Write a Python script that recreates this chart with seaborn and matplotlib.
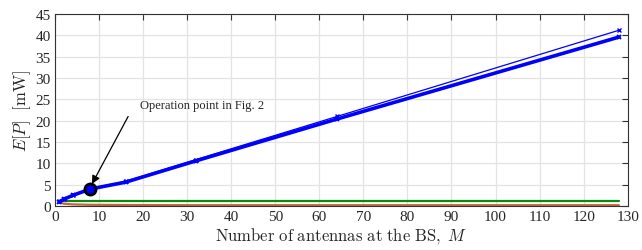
import numpy as np
import pandas as pd
import matplotlib
matplotlib.use("Agg")
import matplotlib.pyplot as plt
import seaborn as sns

# data
antennas = [1, 2, 4, 8, 16, 32, 64, 128]
power_total = [1.0, 1.6, 2.5, 4.0, 5.6, 10.6, 20.4, 39.6]
power_bound = [1.1, 1.7, 2.6, 4.1, 5.8, 10.9, 21.0, 41.2]
power_const = [1.1, 1.1, 1.1, 1.1, 1.1, 1.1, 1.1, 1.1]
power_decay = [0.8, 0.55, 0.4, 0.3, 0.25, 0.2, 0.2, 0.2]
op_point = (8, 4.0)

sns.set_style("white")
plt.rcParams["font.family"] = ["Liberation Serif", "DejaVu Serif"]
plt.rcParams["mathtext.fontset"] = "cm"

df = pd.DataFrame({"M": antennas, "total": power_total, "bound": power_bound,
                   "const": power_const, "decay": power_decay})

fig = plt.figure(figsize=(6.42, 2.51), dpi=100)
ax = fig.add_axes([0.0857, 0.175, 0.892, 0.765])

sns.lineplot(data=df, x="M", y="decay", color="#c1653a", lw=1.6, ax=ax)
sns.lineplot(data=df, x="M", y="const", color="#0a8a0a", lw=1.6, ax=ax)
sns.lineplot(data=df, x="M", y="bound", color="#0000ff", lw=0.9,
             marker="x", markersize=3.5, mew=1, mec="#0000ff", ax=ax)
sns.lineplot(data=df, x="M", y="total", color="#0000ff", lw=2.6,
             marker="x", markersize=3.5, mew=1.3, mec="#0000ff", ax=ax)
ax.plot(*op_point, "o", ms=8, mfc="#0000ff", mec="black", mew=2.0, zorder=5)

ax.text(19.3, 23.8, "Operation point in Fig. 2", fontsize=9,
        ha="left", va="center")
ax.annotate("", xy=(8.4, 5.2), xytext=(16.6, 21.0),
            arrowprops=dict(arrowstyle="-|>", color="black", lw=0.9,
                            mutation_scale=12, shrinkA=0, shrinkB=0))

ax.set_xlim(0, 130)
ax.set_ylim(0, 45)
ax.set_xticks(range(0, 131, 10))
ax.set_yticks(range(0, 46, 5))
ax.grid(True, color="#e3e3e3", lw=0.9)
ax.set_axisbelow(True)
ax.tick_params(direction="in", top=True, right=True, length=4, width=0.8,
               labelsize=11, color="#333333", labelcolor="#262626", pad=3)
for s in ax.spines.values():
    s.set_color("#333333")
    s.set_linewidth(0.8)

ax.set_xlabel(r"$\mathrm{Number\ of\ antennas\ at\ the\ BS,}\ M$", fontsize=12, labelpad=1)
ax.set_ylabel(r"$E[P]\ \ [\mathrm{mW}]$", fontsize=12, labelpad=2)

fig.savefig("out.png", dpi=100)
